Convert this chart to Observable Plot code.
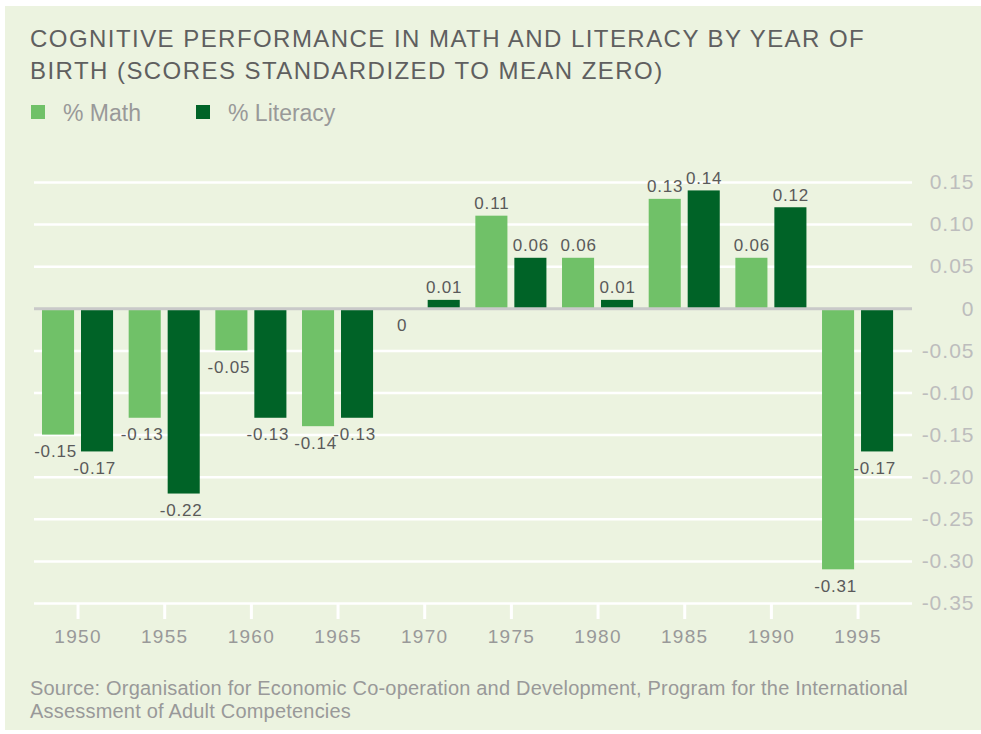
<!DOCTYPE html>
<html><head><meta charset="utf-8">
<script src="https://cdn.jsdelivr.net/npm/d3@7"></script>
<script src="https://cdn.jsdelivr.net/npm/@observablehq/plot@0.6"></script>
<style>
html,body{margin:0;padding:0;}
body{width:981px;height:734px;background:#fff;position:relative;overflow:hidden;font-family:"Liberation Sans",Arial,Helvetica,sans-serif;}
#panel{position:absolute;left:5px;top:6px;width:976px;height:724px;background:#ecf3e0;}
#title{position:absolute;left:30px;top:23px;font-size:24px;line-height:32px;letter-spacing:1.45px;color:#5f5f5f;white-space:nowrap;}
.lg{position:absolute;top:101.5px;font-size:23px;line-height:1;color:#999;white-space:nowrap;}
.sw{position:absolute;top:105px;width:14px;height:14px;}
#source{position:absolute;left:30px;top:677px;font-size:20px;line-height:23px;letter-spacing:0.2px;color:#999;white-space:nowrap;}
#chart{position:absolute;left:0;top:150px;}
</style></head>
<body>
<div id="panel"></div>
<div id="title">COGNITIVE PERFORMANCE IN MATH AND LITERACY BY YEAR OF<br>BIRTH (SCORES STANDARDIZED TO MEAN ZERO)</div>
<div id="legend"></div>
<div id="chart"></div>
<div id="source">Source: Organisation for Economic Co-operation and Development, Program for the International<br>Assessment of Adult Competencies</div>
<script>
const years = ["1950","1955","1960","1965","1970","1975","1980","1985","1990","1995"];
const math = [-0.15,-0.13,-0.05,-0.14,0,0.11,0.06,0.13,0.06,-0.31];
const literacy = [-0.17,-0.22,-0.13,-0.13,0.01,0.06,0.01,0.14,0.12,-0.17];
const yTicks = [0.15,0.10,0.05,0,-0.05,-0.10,-0.15,-0.20,-0.25,-0.30,-0.35];
const seriesNames = ["% Math","% Literacy"];
const seriesColors = ["#70c168","#006327"];

// legend
const legend = document.getElementById("legend");
const legendX = [[31,63],[196,228]];
seriesNames.forEach((s,i)=>{
  const sw = document.createElement("div");
  sw.className="sw"; sw.style.left=legendX[i][0]+"px"; sw.style.background=seriesColors[i];
  const t = document.createElement("div");
  t.className="lg"; t.style.left=legendX[i][1]+"px"; t.textContent=s;
  legend.appendChild(sw); legend.appendChild(t);
});

const rows = years.flatMap((y,i)=>[
  {year:y, series:seriesNames[0], value:math[i]},
  {year:y, series:seriesNames[1], value:literacy[i]}
]);
const mathRows = rows.filter(d=>d.series===seriesNames[0]);
const litRows = rows.filter(d=>d.series===seriesNames[1]);
const fmtNum = v => v===0 ? "0" : (v<0?"-":"") + Math.abs(v).toFixed(2);

const labelStyle = {fill:"#5a5a5a", fontSize:17};
const chart = Plot.plot({
  width:981, height:500,
  marginTop:32, marginBottom:47, marginLeft:34, marginRight:69,
  style:{background:"transparent", fontFamily:"'Liberation Sans', Arial, sans-serif", overflow:"visible"},
  x:{type:"band", domain:years, range:[26.4,908.7], padding:0.18, round:false, axis:null, label:null},
  y:{domain:[-0.35,0.15], axis:null, label:null},
  color:{domain:seriesNames, range:seriesColors},
  marks:[
    Plot.ruleY(yTicks.filter(d=>d!==0), {stroke:"#ffffff", strokeWidth:2.5}),
    Plot.barY(mathRows, {x:"year", y:"value", fill:"series", insetRight:39}),
    Plot.barY(litRows, {x:"year", y:"value", fill:"series", insetLeft:39}),
    Plot.ruleY([0], {stroke:"#c9c9c9", strokeWidth:3}),
    Plot.axisX({tickSize:16, tickPadding:10, stroke:"#ffffff", strokeWidth:3, fill:"#999", fontSize:19, label:null}),
    Plot.axisY(yTicks, {anchor:"right", tickSize:0, tickPadding:0, textAnchor:"end", dx:62, fill:"#bdbdbd", fontSize:21, tickFormat:fmtNum, label:null}),
    Plot.text(mathRows.filter(d=>d.value>0), {x:"year", y:"value", text:d=>fmtNum(d.value), dx:-19.5, dy:-7, lineAnchor:"bottom", ...labelStyle}),
    Plot.text(litRows.filter(d=>d.value>0), {x:"year", y:"value", text:d=>fmtNum(d.value), dx:19.5, dy:-7, lineAnchor:"bottom", ...labelStyle}),
    Plot.text(mathRows.filter(d=>d.value<=0), {x:"year", y:"value", text:d=>fmtNum(d.value), dx:-22.5, dy:10, lineAnchor:"top", ...labelStyle}),
    Plot.text(litRows.filter(d=>d.value<=0), {x:"year", y:"value", text:d=>fmtNum(d.value), dx:16.5, dy:10, lineAnchor:"top", ...labelStyle})
  ]
});
document.getElementById("chart").appendChild(chart);
d3.select(chart).selectAll('g[aria-label="x-axis tick label"] text').style("letter-spacing","1.3px");
d3.select(chart).selectAll('g[aria-label="y-axis tick label"] text').style("letter-spacing","1px");
d3.select(chart).selectAll('g[aria-label="text"] text').style("letter-spacing","0.8px");
</script>
</body></html>
